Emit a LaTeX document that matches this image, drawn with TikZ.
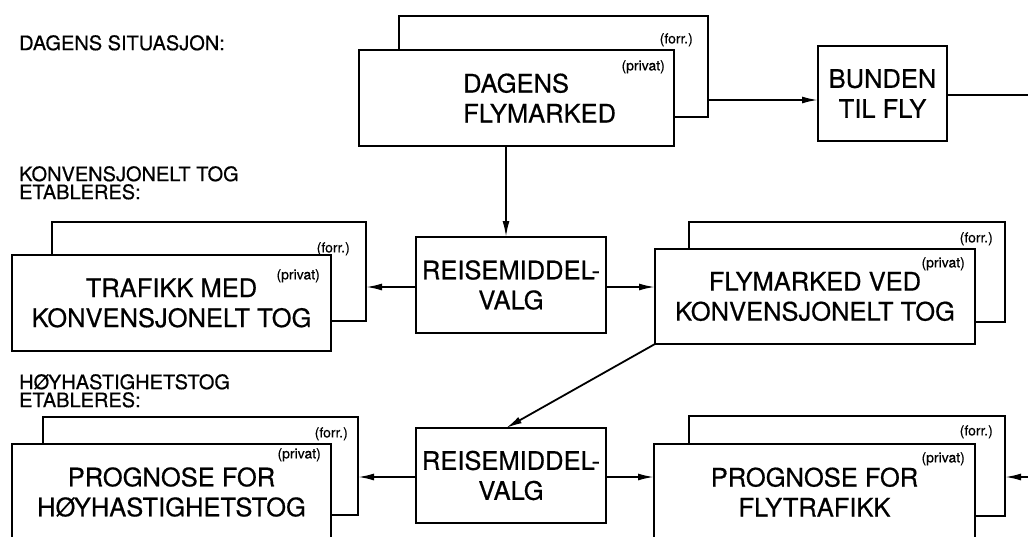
\documentclass[tikz,border=0pt]{standalone}
\usepackage{fontspec}
\setmainfont{TeX Gyre Heros}[FakeBold=0.5]
\usetikzlibrary{arrows.meta,calc}
\begin{document}
\begin{tikzpicture}[x=1pt,y=-1pt,
  box/.style={draw, line width=1.8pt, rectangle, inner sep=0pt, outer sep=0pt,
    anchor=north west, align=center, font=\fontsize{25.5}{30}\selectfont},
  front/.style={box, fill=white},
  tag/.style={inner sep=0pt, anchor=north east, font=\fontsize{14}{15}\selectfont},
  head/.style={inner sep=0pt, anchor=north west, align=left, font=\fontsize{20}{18}\selectfont},
  arr/.style={line width=1.8pt, -{Latex[length=16pt,width=7pt]}},
  conn/.style={line width=1.8pt}]

\useasboundingbox (0,0) rectangle (1028,536);
\clip (0,0) rectangle (1028,536);

% headings
\node[head] (h1) at (19,35) {DAGENS SITUASJON:};
\node[head] (h2) at (19,166) {KONVENSJONELT TOG\\ETABLERES:};
\node[head] (h3) at (19,374) {HØYHASTIGHETSTOG\\ETABLERES:};

% Dagens flymarked
\node[box, minimum width=309pt, minimum height=101pt] (dfB) at (399,16) {};
\node[front, minimum width=315pt, minimum height=96pt] (df) at (359,50) {};
\node[inner sep=0pt, anchor=west, align=left, font=\fontsize{25.5}{30}\selectfont] (dfT) at (463,98) {DAGENS\\FLYMARKED};
\node[tag] (dfF) at ($(dfB.north east)+(-15,17)$) {(forr.)};
\node[tag] (dfP) at ($(df.north east)+(-9,10)$) {(privat)};

% Bunden til fly
\node[box, minimum width=129pt, minimum height=95pt] (bunden) at (818,46) {BUNDEN\\TIL FLY};
\coordinate (outR) at (1028,95);

% Trafikk med konvensjonelt tog
\node[box, minimum width=314pt, minimum height=99pt] (tmB) at (52,222) {};
\node[front, minimum width=319pt, minimum height=96pt] (tm) at (12,255) {TRAFIKK MED\\KONVENSJONELT TOG};
\node[tag] (tmF) at ($(tmB.north east)+(-16,20)$) {(forr.)};
\node[tag] (tmP) at ($(tm.north east)+(-11,14)$) {(privat)};

% Reisemiddelvalg 1
\node[box, minimum width=190pt, minimum height=96pt] (rv1) at (416,237) {REISEMIDDEL-\\VALG};

% Flymarked ved konvensjonelt tog
\node[box, minimum width=316pt, minimum height=100pt] (fmB) at (689,222) {};
\node[front, minimum width=320pt, minimum height=95pt] (fm) at (655,249) {FLYMARKED VED\\KONVENSJONELT TOG};
\node[tag] (fmF) at ($(fmB.north east)+(-12,10)$) {(forr.)};
\node[tag] (fmP) at ($(fm.north east)+(-10,8)$) {(privat)};

% Reisemiddelvalg 2
\node[box, minimum width=190pt, minimum height=95pt] (rv2) at (416,428) {REISEMIDDEL-\\VALG};

% Prognose for hoyhastighetstog
\node[box, minimum width=315pt, minimum height=98pt] (hsB) at (43,417) {};
\node[front, minimum width=319pt, minimum height=96pt] (hs) at (12,444) {PROGNOSE FOR\\HØYHASTIGHETSTOG};
\node[tag] (hsF) at ($(hsB.north east)+(-10,10)$) {(forr.)};
\node[tag] (hsP) at ($(hs.north east)+(-10,4)$) {(privat)};

% Prognose for flytrafikk
\node[box, minimum width=316pt, minimum height=100pt] (pfB) at (689,416) {};
\node[front, minimum width=321pt, minimum height=96pt] (pf) at (654,444) {PROGNOSE FOR\\FLYTRAFIKK};
\node[tag] (pfF) at ($(pfB.north east)+(-12,9)$) {(forr.)};
\node[tag] (pfP) at ($(pf.north east)+(-10,8)$) {(privat)};
\coordinate (inR) at (1028,477);

% connectors
\draw[arr] (dfB.east |- 0,100) -- (bunden.west |- 0,100);
\draw[conn] (bunden.east |- outR) -- (outR);
\draw[arr] (df.south -| 506,0) -- (rv1.north -| 506,0);
\draw[arr] (rv1.west |- 0,287) -- (tmB.east |- 0,287);
\draw[arr] (rv1.east |- 0,287) -- (fm.west |- 0,287);
\draw[arr] (fm.south west) -- (rv2.north -| 506,0);
\draw[arr] (rv2.west |- 0,477) -- (hsB.east |- 0,477);
\draw[arr] (rv2.east |- 0,477) -- (pf.west |- 0,477);
\draw[arr] (inR) -- (pfB.east |- inR);
\end{tikzpicture}
\end{document}
